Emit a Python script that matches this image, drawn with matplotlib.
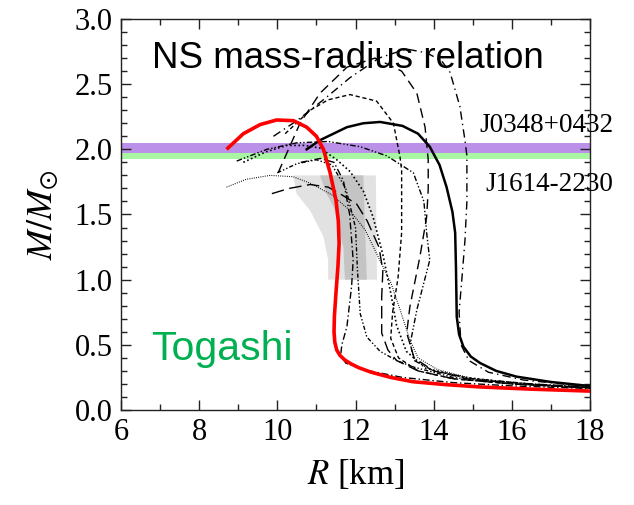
import numpy as np
import matplotlib
matplotlib.use('Agg')
import matplotlib.pyplot as plt
from matplotlib.ticker import MultipleLocator, FormatStrFormatter

plt.rcParams['font.family'] = ['Liberation Serif', 'DejaVu Serif']
plt.rcParams['mathtext.fontset'] = 'stix'

# Togashi EOS (red)
togashi_r = [8.70, 9.13, 9.56, 9.98, 10.41, 10.75, 11.00, 11.18, 11.35, 11.50, 11.56, 11.58,
             11.55, 11.50, 11.46, 11.45, 11.47, 11.52, 11.60, 11.72, 11.88, 12.08, 12.40, 12.90,
             13.47, 14.30, 15.19, 16.50, 18.0]
togashi_m = [2.00, 2.12, 2.19, 2.225, 2.22, 2.17, 2.10, 2.00, 1.82, 1.61, 1.45, 1.28,
             1.10, 0.90, 0.72, 0.60, 0.52, 0.46, 0.42, 0.385, 0.355, 0.325, 0.29, 0.25,
             0.217, 0.195, 0.177, 0.16, 0.145]

# other EOS curves (black)
solid_r = [10.75, 11.09, 11.78, 12.20, 12.63, 13.20, 13.60, 13.90, 14.15, 14.33, 14.48, 14.55, 14.57,
           14.59, 14.65, 14.76, 14.95, 15.19, 15.60, 16.12, 17.0, 18.0]
solid_m = [2.00, 2.07, 2.17, 2.20, 2.21, 2.18, 2.12, 2.02, 1.88, 1.71, 1.52, 1.36, 1.10,
           0.716, 0.58, 0.486, 0.41, 0.36, 0.30, 0.256, 0.215, 0.184]

stiff_r = [9.90, 10.50, 10.84, 11.26, 11.86, 12.60, 13.30, 13.82, 14.20, 14.42, 14.67, 14.80, 14.85,
           14.85, 14.80, 14.72, 14.65, 14.70, 14.90, 15.40, 16.30, 18.0]
stiff_m = [2.10, 2.22, 2.30, 2.40, 2.55, 2.70, 2.77, 2.74, 2.68, 2.59, 2.33, 2.07, 1.95,
           1.60, 1.30, 1.00, 0.75, 0.50, 0.38, 0.29, 0.23, 0.18]

tall_r = [10.02, 10.58, 11.09, 11.78, 12.50, 13.18, 13.57, 13.78, 13.86, 13.86, 13.82, 13.65,
          13.39, 13.31, 13.50, 14.00, 15.00, 16.50, 18.0]
tall_m = [1.82, 2.20, 2.43, 2.63, 2.70, 2.60, 2.43, 2.17, 1.92, 1.69, 1.48, 1.18,
          0.79, 0.59, 0.40, 0.30, 0.23, 0.20, 0.175]

mid_r = [10.20, 10.84, 11.30, 11.86, 12.54, 12.97, 13.14, 13.18, 13.18, 13.09, 12.95, 12.90,
         13.10, 13.60, 14.50, 16.0, 18.0]
mid_m = [2.12, 2.30, 2.38, 2.42, 2.37, 2.20, 1.94, 1.84, 1.36, 1.02, 0.75, 0.55,
         0.40, 0.30, 0.24, 0.20, 0.17]

dd_r = [8.96, 9.73, 10.50, 11.30, 12.12, 12.80, 13.48, 13.75, 13.82, 13.90, 13.57, 13.40,
        13.50, 14.00, 15.00, 16.50, 18.0]
dd_m = [1.91, 2.00, 2.05, 2.06, 2.02, 1.95, 1.82, 1.60, 1.36, 1.15, 0.77, 0.51,
        0.38, 0.30, 0.24, 0.20, 0.175]

dot_r = [9.13, 9.70, 10.24, 10.70, 11.09, 11.52, 11.86, 12.20, 12.45, 12.71, 12.90, 13.05,
         13.30, 13.80, 14.80, 16.30, 18.0]
dot_m = [1.90, 1.98, 2.03, 2.03, 2.01, 1.92, 1.83, 1.68, 1.48, 1.18, 0.90, 0.65,
         0.45, 0.32, 0.25, 0.20, 0.17]

fine_r = [8.70, 9.20, 9.81, 10.40, 10.84, 11.40, 11.86, 12.25, 12.54, 12.90, 13.14, 13.39,
          13.60, 14.10, 15.00, 16.50, 18.0]
fine_m = [1.71, 1.77, 1.80, 1.79, 1.74, 1.65, 1.53, 1.38, 1.20, 0.98, 0.77, 0.54,
          0.40, 0.31, 0.24, 0.20, 0.17]

low_r = [9.86, 10.30, 10.84, 11.30, 11.60, 12.03, 12.30, 12.60, 12.70, 12.67, 12.67, 12.83,
         13.05, 13.60, 14.50, 16.0, 18.0]
low_m = [1.66, 1.70, 1.73, 1.71, 1.66, 1.58, 1.45, 1.25, 1.07, 0.87, 0.59, 0.46,
         0.38, 0.30, 0.24, 0.20, 0.17]

soft_r = [10.60, 11.10, 11.45, 11.69, 11.85, 11.94, 11.90, 11.78, 11.65, 11.62, 11.75, 12.20,
          13.20, 14.50, 16.0, 18.0]
soft_m = [1.90, 1.93, 1.90, 1.76, 1.50, 1.15, 0.95, 0.64, 0.50, 0.42, 0.36, 0.31,
          0.25, 0.21, 0.185, 0.165]

soft2_r = [10.00, 10.50, 11.00, 11.40, 11.75, 12.00, 12.05, 12.12, 12.29, 12.63, 13.05, 13.48,
           14.50, 16.0, 18.0]
soft2_m = [1.82, 1.89, 1.92, 1.88, 1.70, 1.40, 1.07, 0.74, 0.56, 0.45, 0.38, 0.33,
           0.25, 0.20, 0.17]

# pulsar mass bands
j0348 = (1.97, 2.05)
j1614 = (1.925, 1.97)

# radius constraint regions
light_r = [10.41, 12.52, 12.55, 11.30, 11.30, 11.18, 10.84, 10.49]
light_m = [1.80, 1.80, 1.00, 1.00, 1.15, 1.33, 1.53, 1.66]
dark_r = [11.09, 12.20, 12.29, 11.73, 11.69, 11.45, 11.26]
dark_m = [1.80, 1.80, 1.00, 1.00, 1.25, 1.55, 1.66]

fig = plt.figure(figsize=(6.34, 5.05), dpi=100)
ax = fig.add_axes([0.1909, 0.1881, 0.7397, 0.7743])

ax.axhspan(j1614[0], j1614[1], color='#a8f5a2', lw=0, zorder=1)
ax.axhspan(j0348[0], j0348[1], color='#bb90e8', lw=0, zorder=1)
ax.fill(light_r, light_m, color='#e2e2e2', lw=0, zorder=1)
ax.fill(dark_r, dark_m, color='#c4c4c4', lw=0, zorder=1)

ax.plot(solid_r, solid_m, color='k', lw=1.8, zorder=3)
ax.plot(stiff_r, stiff_m, color='k', lw=1.0, dashes=(6, 3, 1, 3), zorder=3)
ax.plot(tall_r, tall_m, color='k', lw=1.0, dashes=(7, 4), zorder=3)
ax.plot(mid_r, mid_m, color='k', lw=1.0, dashes=(3, 2), zorder=3)
ax.plot(dd_r, dd_m, color='k', lw=1.0, dashes=(4, 1.5, 1, 1.5, 1, 1.5), zorder=3)
ax.plot(dot_r, dot_m, color='k', lw=1.2, dashes=(1, 1.5), zorder=3)
ax.plot(fine_r, fine_m, color='k', lw=0.8, dashes=(0.8, 1.2), zorder=3)
ax.plot(low_r, low_m, color='k', lw=1.0, dashes=(9, 4), zorder=3)
ax.plot(soft_r, soft_m, color='k', lw=1.0, dashes=(5, 2, 1, 2), zorder=3)
ax.plot(soft2_r, soft2_m, color='k', lw=1.0, dashes=(3, 1.5, 1, 1.5, 1, 1.5), zorder=3)
ax.plot(togashi_r, togashi_m, color='#ff0000', lw=2.6, zorder=4, solid_capstyle='butt',
        solid_joinstyle='round')

ax.set_xlim(6, 18)
ax.set_ylim(0, 3)
ax.xaxis.set_major_locator(MultipleLocator(2))
ax.xaxis.set_minor_locator(MultipleLocator(1))
ax.yaxis.set_major_locator(MultipleLocator(0.5))
ax.yaxis.set_minor_locator(MultipleLocator(0.1))
ax.yaxis.set_major_formatter(FormatStrFormatter('%.1f'))
ax.tick_params(which='both', direction='in', top=True, right=True, labelsize=22, width=1, color='#222222')
ax.tick_params(which='major', length=7, pad=6)
ax.tick_params(which='minor', length=4)
for s in ax.spines.values():
    s.set_linewidth(1.0)
    s.set_color('#222222')

ax.set_xlabel(r'$R$ [km]', fontsize=25, labelpad=8)
ax.set_ylabel(r'$M/M_{\odot}$', fontsize=26, labelpad=10)

ax.text(0.065, 0.875, 'NS mass-radius relation', transform=ax.transAxes, fontsize=26.5,
        family=['Liberation Sans', 'DejaVu Sans'], va='baseline', zorder=5)
ax.text(0.065, 0.128, 'Togashi', transform=ax.transAxes, fontsize=29.5, color='#00b050',
        family=['Liberation Sans', 'DejaVu Sans'], va='baseline', zorder=5)
ax.text(18.6, 2.13, 'J0348+0432', fontsize=19.5, ha='right', va='baseline', clip_on=False, zorder=5)
ax.text(18.6, 1.68, 'J1614-2230', fontsize=19.5, ha='right', va='baseline', clip_on=False, zorder=5)

fig.savefig('out.png', dpi=100)
